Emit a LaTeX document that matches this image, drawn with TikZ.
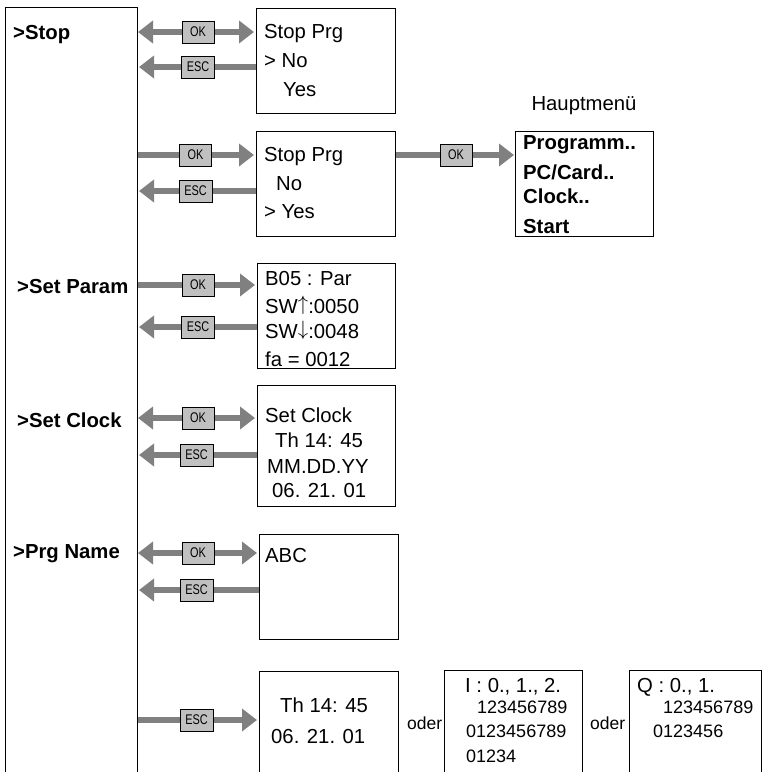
\documentclass[tikz,border=0pt]{standalone}
\usepackage{fontspec}
\setmainfont{Liberation Sans}
\newfontfamily\btnfont[FakeStretch=0.78]{Liberation Sans}
\usetikzlibrary{arrows.meta}
\pgfdeclarelayer{bg}
\pgfsetlayers{bg,main}
\definecolor{arrgray}{RGB}{128,128,128}
\definecolor{btngray}{RGB}{192,192,192}
\newcommand{\upar}{\raisebox{2.8pt}{$\uparrow$}}
\newcommand{\dnar}{\raisebox{2.8pt}{$\downarrow$}}
\tikzset{
  box/.style={draw, line width=1pt, anchor=north west, inner sep=0pt},
  btn/.style={draw, line width=0.8pt, fill=btngray, minimum width=32pt, minimum height=22pt, inner sep=0pt, font=\btnfont\fontsize{14}{15}\selectfont},
  txt/.style={anchor=base west, inner sep=0pt, font=\fontsize{20.3}{24}\selectfont},
  btxt/.style={anchor=base west, inner sep=0pt, font=\fontsize{20.3}{24}\selectfont\bfseries},
  stxt/.style={anchor=base west, inner sep=0pt, font=\fontsize{18}{22}\selectfont},
  otxt/.style={anchor=base west, inner sep=0pt, font=\fontsize{17.5}{21}\selectfont},
  conn/.style={draw=arrgray, line width=6pt, >={Triangle[length=15pt,width=22pt]}},
}
\begin{document}
\begin{tikzpicture}[x=1pt,y=-1pt]
\useasboundingbox (0,0) rectangle (762,772);
\clip (0,0) rectangle (762,772);
% boxes
\node[box, minimum width=132pt, minimum height=800pt] (menu) at (5,7) {};
\node[box, minimum width=139pt, minimum height=105pt] (sp1) at (256,8) {};
\node[box, minimum width=139pt, minimum height=105pt] (sp2) at (256,131) {};
\node[box, minimum width=138pt, minimum height=105pt] (hm) at (515,131) {};
\node[box, minimum width=138pt, minimum height=105pt] (par) at (257,263) {};
\node[box, minimum width=138pt, minimum height=121pt] (clk) at (257,385) {};
\node[box, minimum width=139pt, minimum height=105pt] (abc) at (259,534) {};
\node[box, minimum width=139pt, minimum height=130pt] (th) at (259,671) {};
\node[box, minimum width=138pt, minimum height=130pt] (ib) at (444,670) {};
\node[box, minimum width=132pt, minimum height=130pt] (qb) at (629,670) {};
% buttons
\node[btn] (ok1) at (198,32) {OK};
\node[btn, minimum width=33pt] (esc1) at (198,67) {ESC};
\node[btn] (ok2) at (195.5,155) {OK};
\node[btn, minimum width=33pt] (esc2) at (195.5,191) {ESC};
\node[btn] (okhm) at (456,155) {OK};
\node[btn] (okpar) at (198,285) {OK};
\node[btn, minimum width=33pt] (escpar) at (198,327) {ESC};
\node[btn] (okclk) at (198,418) {OK};
\node[btn, minimum width=33pt] (escclk) at (196.5,455) {ESC};
\node[btn] (okprg) at (198,553) {OK};
\node[btn, minimum width=33pt] (escprg) at (196.5,590) {ESC};
\node[btn, minimum width=33pt] (escth) at (196.5,720) {ESC};
% connectors
\begin{pgfonlayer}{bg}
\draw[conn, <->, shorten >=2pt] (menu.east |- ok1) -- (sp1.west |- ok1);
\draw[conn, <-, shorten <=1pt] (menu.east |- esc1) -- (sp1.west |- esc1);
\draw[conn, ->, shorten >=2pt] (menu.east |- ok2) -- (sp2.west |- ok2);
\draw[conn, <-, shorten <=1pt] (menu.east |- esc2) -- (sp2.west |- esc2);
\draw[conn, ->, shorten >=1pt] (sp2.east |- okhm) -- (hm.west |- okhm);
\draw[conn, ->, shorten >=2pt] (menu.east |- okpar) -- (par.west |- okpar);
\draw[conn, <-, shorten <=1pt] (menu.east |- escpar) -- (par.west |- escpar);
\draw[conn, <->, shorten >=2pt] (menu.east |- okclk) -- (clk.west |- okclk);
\draw[conn, <-, shorten <=1pt] (menu.east |- escclk) -- (clk.west |- escclk);
\draw[conn, <->, shorten >=2pt] (menu.east |- okprg) -- (abc.west |- okprg);
\draw[conn, <-, shorten <=1pt] (menu.east |- escprg) -- (abc.west |- escprg);
\draw[conn, ->, shorten >=2pt] (menu.east |- escth) -- (th.west |- escth);
\end{pgfonlayer}
% menu entries
\node[btxt] (mstop) at (13,39) {>Stop};
\node[btxt] (mpar) at (17,293) {>Set Param};
\node[btxt] (mclk) at (17,427) {>Set Clock};
\node[btxt] (mprg) at (13,558) {>Prg Name};
% stop prg 1
\node[txt] (a1) at (264,38) {Stop Prg};
\node[txt] (a2) at (264,67) {> No};
\node[txt] (a3) at (283,96) {Yes};
% stop prg 2
\node[txt] (b1) at (264,161) {Stop Prg};
\node[txt] (b2) at (276,190) {No};
\node[txt] (b3) at (264,218) {> Yes};
% Hauptmenue
\node[txt, anchor=base] (hmt) at (584,110) {Hauptmenü};
\node[btxt] (c1) at (523,149) {Programm..};
\node[btxt] (c2) at (523,179) {PC/Card..};
\node[btxt] (c3) at (523,203) {Clock..};
\node[btxt] (c4) at (523,233) {Start};
% param
\node[txt] (d1) at (265,285) {B05 : Par};
\node[txt] (d2) at (265,313) {SW\upar:0050};
\node[txt] (d3) at (265,338) {SW\dnar:0048};
\node[txt] (d4) at (265,366) {fa = 0012};
% clock
\node[txt] (e1) at (265,422) {Set Clock};
\node[txt] (e2) at (275,447) {Th 14: 45};
\node[txt] (e3) at (267,473) {MM.DD.YY};
\node[txt] (e4) at (272,497) {06. 21. 01};
% prg name
\node[txt] (f1) at (265,562) {ABC};
% bottom
\node[txt] (g1) at (280,712) {Th 14: 45};
\node[txt] (g2) at (271,743) {06. 21. 01};
\node[otxt] (oder1) at (407,729) {oder};
\node[txt] (h1) at (465,692) {I : 0., 1., 2.};
\node[stxt] (h2) at (477,713) {123456789};
\node[stxt] (h3) at (466,737) {0123456789};
\node[stxt] (h4) at (466,762) {01234};
\node[otxt] (oder2) at (590,729) {oder};
\node[txt] (k1) at (637,692) {Q : 0., 1.};
\node[stxt] (k2) at (663,713) {123456789};
\node[stxt] (k3) at (653,737) {0123456};
\end{tikzpicture}
\end{document}
